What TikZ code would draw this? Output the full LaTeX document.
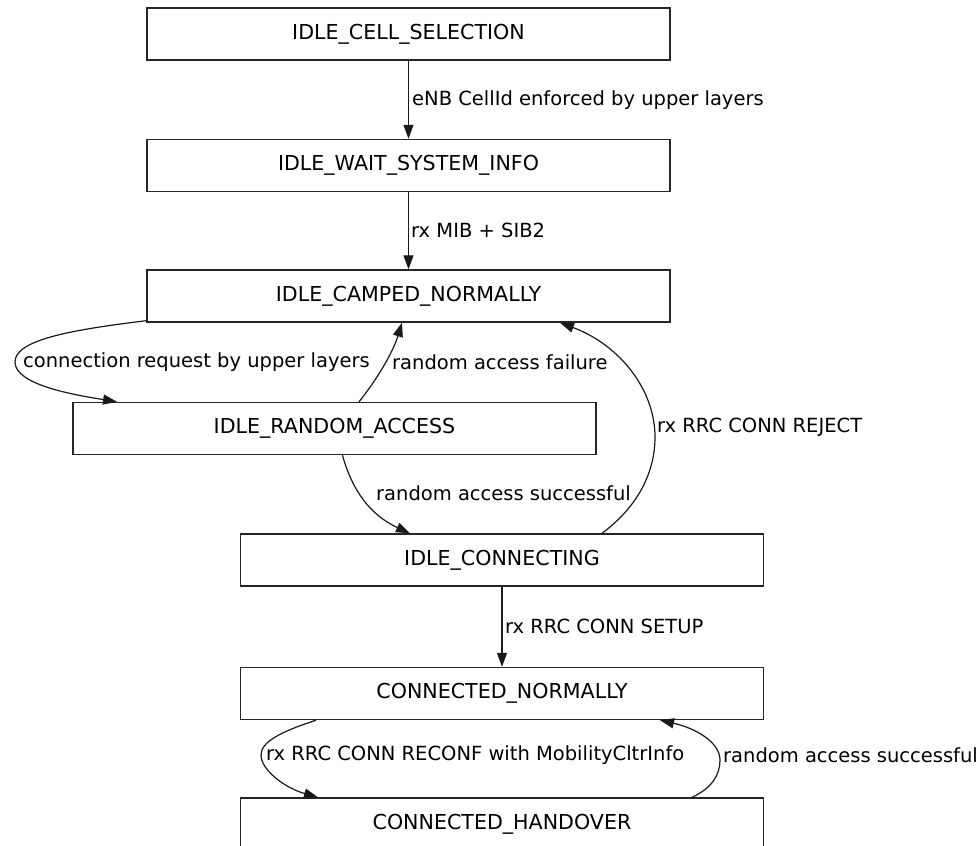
\documentclass[tikz,border=0pt]{standalone}
\usepackage{fontspec}
\setmainfont{DejaVu Sans}
\usetikzlibrary{arrows.meta}
\begin{document}
\begin{tikzpicture}[x=1pt,y=-1pt,
  state/.style={draw=black!85,line width=1.4pt,minimum width=523pt,minimum height=52pt,inner sep=0pt,font=\fontsize{20.6}{22}\selectfont},
  lbl/.style={anchor=west,inner sep=0pt,font=\fontsize{19.5}{22}\selectfont},
  edge/.style={draw=black!90,line width=1.2pt,-{Triangle[length=14pt,width=10pt]}}]
\useasboundingbox (0,0) rectangle (978,846);
\clip (0,0) rectangle (978,846);

% states
\node[state] (sel)  at (408.5,34)    {IDLE\_CELL\_SELECTION};
\node[state] (wait) at (408.5,165.5) {IDLE\_WAIT\_SYSTEM\_INFO};
\node[state] (camp) at (408.5,296)   {IDLE\_CAMPED\_NORMALLY};
\node[state] (rand) at (334.5,428.5) {IDLE\_RANDOM\_ACCESS};
\node[state] (conn) at (502,560)     {IDLE\_CONNECTING};
\node[state] (norm) at (502,693.5)   {CONNECTED\_NORMALLY};
\node[state] (hand) at (502,824)     {CONNECTED\_HANDOVER};

% transitions
\draw[edge] (sel) -- (wait);
\draw[edge] (wait) -- (camp);
\draw[edge] ([yshift=2pt]camp.south west) .. controls (70,330) and (15,340) .. (15,362)
  .. controls (15,385) and (75,395) .. ([xshift=-217.5pt]rand.north);
\draw[edge] ([xshift=24.5pt]rand.north) .. controls (378,378) and (393,352) .. ([xshift=-6.5pt]camp.south);
\draw[edge] ([xshift=8pt]rand.south) .. controls (352,490) and (370,515) .. ([xshift=-92pt]conn.north);
\draw[edge] ([xshift=100pt]conn.north) .. controls (640,505) and (655,470) .. (655,437)
  .. controls (655,390) and (620,345) .. ([xshift=151.5pt]camp.south);
\draw[edge] (conn) -- (norm);
\draw[edge] ([xshift=-186pt]norm.south) .. controls (280,732) and (261,742) .. (261,755)
  .. controls (261,770) and (285,788) .. ([xshift=-184pt]hand.north);
\draw[edge] ([xshift=190pt]hand.north) .. controls (712,788) and (720,775) .. (720,760)
  .. controls (720,742) and (695,728) .. ([xshift=158pt]norm.south);

% transition labels
\node[lbl] (l1) at (412,100) {eNB CellId enforced by upper layers};
\node[lbl] (l2) at (411,230) {rx MIB + SIB2};
\node[lbl] (l3) at (23,362)  {connection request by upper layers};
\node[lbl] (l4) at (392,362) {random access failure};
\node[lbl] (l5) at (376,493) {random access successful};
\node[lbl] (l6) at (657,427) {rx RRC CONN REJECT};
\node[lbl] (l7) at (505,626) {rx RRC CONN SETUP};
\node[lbl] (l8) at (266,755) {rx RRC CONN RECONF with MobilityCltrInfo};
\node[lbl] (l9) at (723,755) {random access successful};
\end{tikzpicture}
\end{document}
